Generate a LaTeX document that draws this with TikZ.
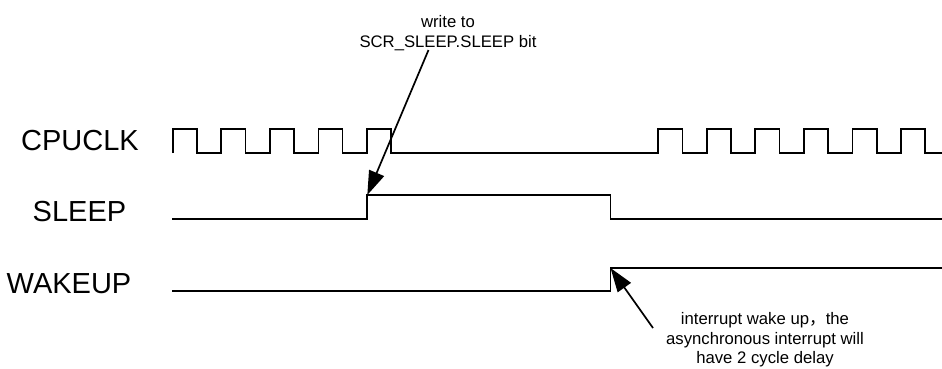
\documentclass[tikz,border=0pt]{standalone}
\usepackage{fontspec}
\setmainfont{Liberation Sans}
\newfontfamily\cjkfont{Noto Sans CJK SC}
\usetikzlibrary{arrows.meta}
\tikzset{
  sig/.style={line width=1.7pt, line join=miter},
  lbl/.style={anchor=west, inner sep=0pt, font=\fontsize{29}{30}\selectfont},
  note/.style={align=center, inner sep=0pt, font=\fontsize{16.7}{19.5}\selectfont},
  pointer/.style={line width=1.7pt, -{Triangle[length=24pt,width=16pt]}}
}
\begin{document}
\begin{tikzpicture}[x=1pt,y=-1pt]
\useasboundingbox (0,0) rectangle (942,368);
% labels
\node[lbl] (clk) at (21,141) {CPUCLK};
\node[lbl] (slp) at (32.5,212) {SLEEP};
\node[lbl] (wak) at (6.5,284) {WAKEUP};
% CPUCLK
\def\T{48.55}
\def\H{24.28}
\draw[sig] (172.7,153)
  \foreach \k in {0,...,4}{
    -- ({172.7+\k*\T},153) -- ({172.7+\k*\T},129) -- ({172.7+\k*\T+\H},129) -- ({172.7+\k*\T+\H},153)
  }
  \foreach \k in {10,...,15}{
    -- ({172.7+\k*\T},153) -- ({172.7+\k*\T},129) -- ({172.7+\k*\T+\H},129) -- ({172.7+\k*\T+\H},153)
  }
  -- (942,153);
% SLEEP
\coordinate (sleeprise) at (367.3,195);
\draw[sig] (172,219) -- (367.3,219) -- (sleeprise) -- (610.5,195) -- (610.5,219) -- (942,219);
% WAKEUP
\coordinate (wakerise) at (610.5,268);
\draw[sig] (172,291) -- (610.5,291) -- (wakerise) -- (942,268);
% annotations
\node[note] (write) at (448,33) {write to\\SCR\_SLEEP.SLEEP bit};
\coordinate (wstart) at (428.5,50);
\draw[pointer] (wstart) -- (sleeprise);
\node[note] (irq) at (765,340) {interrupt wake up{\cjkfont ，}the\\asynchronous interrupt will\\have 2 cycle delay};
\coordinate (istart) at (653,328);
\draw[pointer] (istart) -- (wakerise);
\end{tikzpicture}
\end{document}
